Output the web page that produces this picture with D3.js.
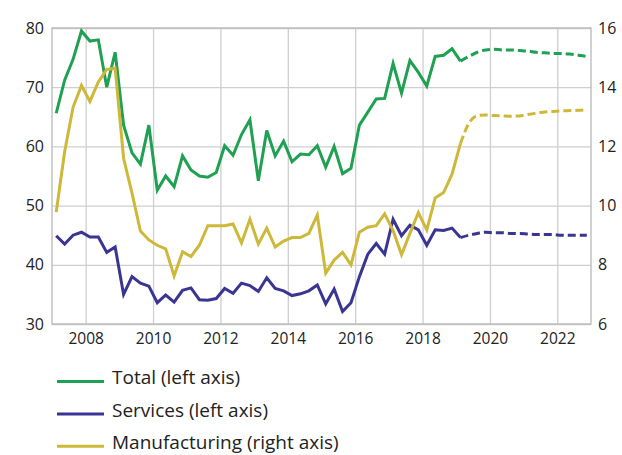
<!DOCTYPE html>
<html>
<head>
<meta charset="utf-8">
<script src="https://cdn.jsdelivr.net/npm/d3@7"></script>
<style>
  body { margin: 0; background: #fff; }
  text { font-family: "Open Sans", sans-serif; fill: #222; }
</style>
</head>
<body>
<svg width="622" height="455"></svg>
<script>
// quarterly, 2007Q1 .. 2022Q4; last actual = 2019Q1 (index 48), rest is forecast
const startYear = 2007;
const lastActual = 48;

const total = [65.6, 71.2, 74.7, 79.5, 77.8, 78.0, 70.0, 75.9, 63.6, 58.9, 57.0, 63.6,
  52.6, 55.0, 53.2, 58.4, 56.0, 55.0, 54.8, 55.6, 60.1, 58.5, 62.0, 64.5,
  54.2, 62.7, 58.4, 60.9, 57.4, 58.7, 58.6, 60.1, 56.5, 60.0, 55.4, 56.3,
  63.6, 65.8, 68.0, 68.1, 74.0, 69.0, 74.5, 72.5, 70.2, 75.2, 75.4, 76.5,
  74.4, 75.2, 75.9, 76.3, 76.4, 76.3, 76.3, 76.2, 76.1, 75.9, 75.8, 75.7,
  75.7, 75.6, 75.4, 75.2];

const services = [44.9, 43.5, 45.0, 45.5, 44.7, 44.7, 42.1, 43.0, 35.0, 38.0, 36.9, 36.4,
  33.6, 34.9, 33.7, 35.7, 36.1, 34.1, 34.0, 34.3, 36.0, 35.2, 36.9, 36.5,
  35.5, 37.8, 36.0, 35.6, 34.8, 35.1, 35.6, 36.6, 33.4, 35.9, 32.1, 33.6,
  38.0, 41.8, 43.6, 41.8, 47.7, 44.9, 46.7, 45.9, 43.3, 45.9, 45.8, 46.2,
  44.6, 45.0, 45.3, 45.5, 45.4, 45.4, 45.3, 45.3, 45.2, 45.1, 45.1, 45.1,
  45.0, 45.0, 45.0, 45.0];

const manufacturing = [9.78, 11.82, 13.32, 14.06, 13.52, 14.18, 14.6, 14.64, 11.6, 10.42, 9.14, 8.84,
  8.66, 8.54, 7.62, 8.44, 8.28, 8.66, 9.32, 9.32, 9.32, 9.38, 8.74, 9.54,
  8.7, 9.24, 8.6, 8.8, 8.92, 8.92, 9.06, 9.68, 7.72, 8.16, 8.42, 8.0,
  9.1, 9.27, 9.32, 9.72, 9.16, 8.34, 9.06, 9.76, 9.18, 10.26, 10.44, 11.06,
  12.1, 12.78, 13.04, 13.06, 13.04, 13.03, 13.02, 13.03, 13.08, 13.12, 13.16, 13.18,
  13.2, 13.21, 13.22, 13.24];

const leftTicks = [30, 40, 50, 60, 70, 80];
const rightTicks = [6, 8, 10, 12, 14, 16];
const yearTicks = [2008, 2010, 2012, 2014, 2016, 2018, 2020, 2022];

const series = [
  { name: 'Total (left axis)', values: total, axis: 'left', color: '#1fa052' },
  { name: 'Services (left axis)', values: services, axis: 'left', color: '#3a3592' },
  { name: 'Manufacturing (right axis)', values: manufacturing, axis: 'right', color: '#cdb83a' }
];

const svg = d3.select('svg');
const margin = { top: 28, left: 52, right: 31, bottom: 131 };
const width = +svg.attr('width');
const height = +svg.attr('height');
const plotW = width - margin.left - margin.right;
const plotH = height - margin.top - margin.bottom;

const x = d3.scaleLinear().domain([2007, 2023]).range([0, plotW]);
const yL = d3.scaleLinear().domain([30, 80]).range([plotH, 0]);
const yR = d3.scaleLinear().domain([6, 16]).range([plotH, 0]);

const g = svg.append('g')
  .attr('transform', `translate(${margin.left},${margin.top})`);

// grid
g.append('g')
  .attr('transform', `translate(0,${plotH})`)
  .call(d3.axisBottom(x).tickValues(yearTicks).tickSize(-plotH).tickFormat(d3.format('d')))
  .call(a => a.select('.domain').remove())
  .call(a => a.selectAll('line').attr('stroke', '#cfcfcf').attr('stroke-width', 1.3))
  .call(a => a.selectAll('text').attr('dy', 0).attr('y', 20).style('font-size', '15.5px'));

g.append('g')
  .call(d3.axisLeft(yL).tickValues(leftTicks).tickSize(-plotW))
  .call(a => a.select('.domain').remove())
  .call(a => a.selectAll('line').attr('stroke', '#cfcfcf').attr('stroke-width', 1.3))
  .call(a => a.selectAll('text').attr('x', -8).style('font-size', '16px'));

g.append('g')
  .attr('transform', `translate(${plotW},0)`)
  .call(d3.axisRight(yR).tickValues(rightTicks).tickSize(0))
  .call(a => a.select('.domain').remove())
  .call(a => a.selectAll('text').attr('x', 7).style('font-size', '16px'));

g.append('rect')
  .attr('width', plotW).attr('height', plotH)
  .attr('fill', 'none').attr('stroke', '#b8b8b8').attr('stroke-width', 1.3);

const qx = i => x(startYear + (i + 0.5) / 4);

series.forEach(s => {
  const y = s.axis === 'left' ? yL : yR;
  const line = d3.line().x(d => qx(d.i)).y(d => y(d.v));
  const pts = s.values.map((v, i) => ({ i, v }));
  g.append('path')
    .datum(pts.filter(d => d.i <= lastActual))
    .attr('d', line)
    .attr('fill', 'none').attr('stroke', s.color)
    .attr('stroke-width', 3).attr('stroke-linejoin', 'miter');
  g.append('path')
    .datum(pts.filter(d => d.i >= lastActual))
    .attr('d', line.curve(d3.curveMonotoneX))
    .attr('fill', 'none').attr('stroke', s.color)
    .attr('stroke-width', 3).attr('stroke-dasharray', '8,4');
});

// legend
const legend = svg.append('g').attr('transform', 'translate(57,381.5)');
series.forEach((s, i) => {
  const row = legend.append('g').attr('transform', `translate(0,${i * 32.4})`);
  row.append('line').attr('x1', 0).attr('x2', 47)
    .attr('stroke', s.color).attr('stroke-width', 3);
  row.append('text').attr('x', 55).attr('dy', '0.15em')
    .style('font-size', '19px').text(s.name);
});
</script>
</body>
</html>
